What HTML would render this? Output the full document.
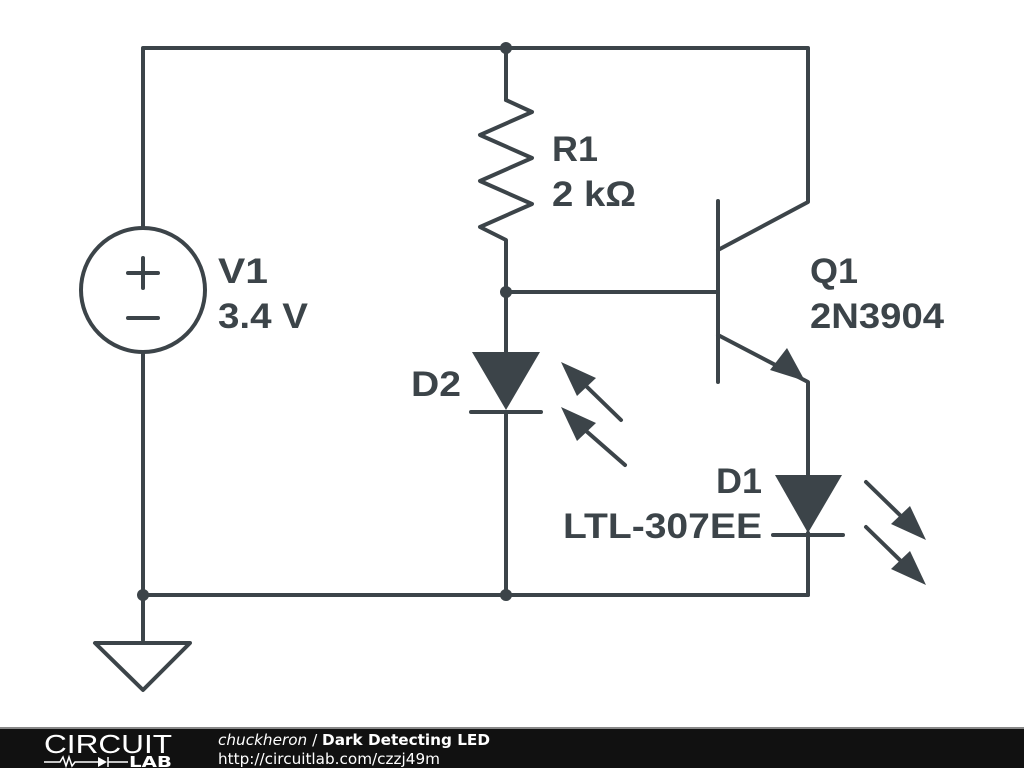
<!DOCTYPE html>
<html><head><style>
html,body{margin:0;padding:0;background:#fff;width:1024px;height:768px;overflow:hidden}
svg{display:block}
text{font-family:"DejaVu Sans","Liberation Sans",sans-serif}
.l text{font-family:"Liberation Sans",sans-serif}
</style></head><body>
<svg width="1024" height="768" viewBox="0 0 1024 768">
<g stroke="#3c4449" stroke-width="4" fill="none" stroke-linecap="round" stroke-linejoin="round">
<polyline points="143,228 143,48 808,48 808,202 718,250"/>
<line x1="506" y1="48" x2="506" y2="100"/>
<polyline points="506,100 532,112 480,135 532,158 480,181 532,204 480,227 506,240 506,352"/>
<line x1="506" y1="292" x2="718" y2="292"/>
<line x1="718" y1="201" x2="718" y2="382"/>
<polyline points="718,335 808,382 808,475"/>
<line x1="808" y1="533" x2="808" y2="595"/>
<polyline points="506,412 506,595 808,595"/>
<polyline points="143,352 143,640"/>
<line x1="143" y1="595" x2="506" y2="595"/>
<circle cx="143" cy="290" r="62"/>
<line x1="143" y1="258" x2="143" y2="288"/><line x1="128" y1="273" x2="158" y2="273"/>
<line x1="128" y1="318" x2="158" y2="318"/>
<polygon points="95,643 190,643 143,690"/>
<line x1="471" y1="412" x2="541" y2="412"/>
<line x1="773" y1="535" x2="843" y2="535"/>
<line x1="621" y1="420" x2="585" y2="385"/>
<line x1="625" y1="465" x2="585" y2="430"/>
<line x1="866" y1="482" x2="905" y2="520"/>
<line x1="866" y1="527" x2="905" y2="565"/>
</g>
<g fill="#3c4449">
<polygon points="472,352 540,352 506,410"/>
<polygon points="775,475 842,475 808,533"/>
<polygon points="805,381 770,370 787,348"/>
<polygon points="561,362 596,378 577,396"/>
<polygon points="561,407 596,423 577,441"/>
<polygon points="926,540 891,524 910,506"/>
<polygon points="926,585 891,569 910,551"/>
<circle cx="506" cy="48" r="6"/><circle cx="506" cy="292" r="6"/>
<circle cx="143" cy="595" r="6"/><circle cx="506" cy="595" r="6"/>
</g>
<g class="l" fill="#3c4449" font-size="35" font-weight="bold">
<text x="552" y="161" textLength="46" lengthAdjust="spacingAndGlyphs">R1</text>
<text x="552" y="206" textLength="84" lengthAdjust="spacingAndGlyphs">2 kΩ</text>
<text x="218" y="283" textLength="50" lengthAdjust="spacingAndGlyphs">V1</text>
<text x="218" y="328" textLength="90" lengthAdjust="spacingAndGlyphs">3.4 V</text>
<text x="810" y="283" textLength="48" lengthAdjust="spacingAndGlyphs">Q1</text>
<text x="810" y="328" textLength="134" lengthAdjust="spacingAndGlyphs">2N3904</text>
<text x="411" y="396" textLength="50" lengthAdjust="spacingAndGlyphs">D2</text>
<text x="716" y="493" textLength="46" lengthAdjust="spacingAndGlyphs">D1</text>
<text x="563" y="538" textLength="199" lengthAdjust="spacingAndGlyphs">LTL-307EE</text>
</g>
<rect x="0" y="728" width="1024" height="40" fill="#111"/>
<rect x="0" y="727" width="1024" height="2" fill="#888"/>
<text x="44" y="753" fill="#fff" font-size="26" textLength="128" lengthAdjust="spacingAndGlyphs" style="font-family:'Liberation Sans',sans-serif;font-weight:normal">CIRCUIT</text>
<g stroke="#fff" stroke-width="1.5" fill="none"><polyline points="44,762 60,762 63,757 66,766 69,757 72,766 75,762 98,762"/><line x1="108" y1="757" x2="108" y2="767"/><line x1="108" y1="762" x2="128" y2="762"/></g>
<polygon points="98,757 98,767 107,762" fill="#fff"/>
<text x="129" y="767" fill="#fff" font-size="15" font-weight="bold" textLength="43" lengthAdjust="spacingAndGlyphs">LAB</text>
<text x="218" y="745" fill="#fff" font-size="15" textLength="272" lengthAdjust="spacingAndGlyphs"><tspan font-style="italic">chuckheron</tspan> / <tspan font-weight="bold">Dark Detecting LED</tspan></text>
<text x="218" y="764" fill="#fff" font-size="15" textLength="222" lengthAdjust="spacingAndGlyphs">http://circuitlab.com/czzj49m</text>
</svg>
</body></html>
